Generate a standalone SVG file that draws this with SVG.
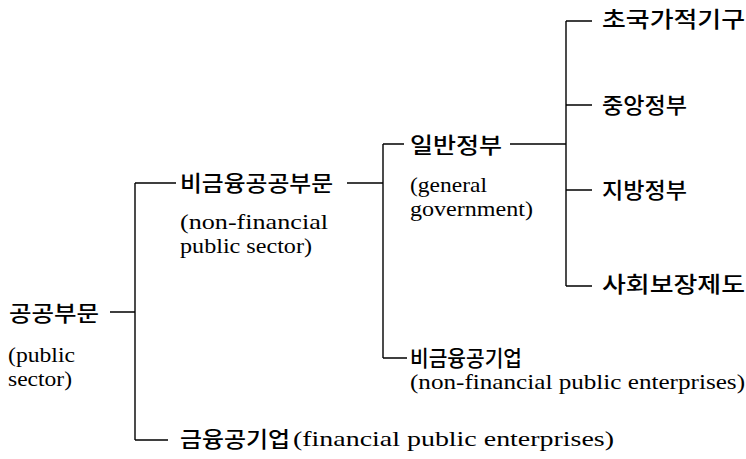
<svg xmlns="http://www.w3.org/2000/svg" width="746" height="459" viewBox="0 0 746 459">
<style>
.ko{font-family:"Noto Sans CJK KR","Noto Sans",sans-serif;font-size:22px;font-weight:500;fill:#000}
.en{font-family:"Liberation Serif","Times New Roman",serif;font-size:21px;fill:#000}
.c{stroke:#000;stroke-width:1.4;fill:none}
</style>
<rect width="746" height="459" fill="#fff"/>
<g id="connectors" class="c">
<path d="M110,312H135M135,183V440M135,183H176M135,440H168"/>
<path d="M347,183H383M383,144V358M383,144H404M383,358H407"/>
<path d="M510,144H566M566,21V286M566,21H592M566,105H592M566,190H592M566,286H592"/>
</g>
<g id="public-sector">
<text class="ko" x="9" y="321" textLength="90" lengthAdjust="spacingAndGlyphs">공공부문</text>
<text class="en" x="8" y="362" textLength="67" lengthAdjust="spacingAndGlyphs">(public</text>
<text class="en" x="8" y="386" textLength="64" lengthAdjust="spacingAndGlyphs">sector)</text>
</g>
<g id="non-financial-public-sector">
<text class="ko" x="180" y="191" textLength="153" lengthAdjust="spacingAndGlyphs">비금융공공부문</text>
<text class="en" x="180" y="229" textLength="148" lengthAdjust="spacingAndGlyphs">(non-financial</text>
<text class="en" x="180" y="253" textLength="132" lengthAdjust="spacingAndGlyphs">public sector)</text>
</g>
<g id="general-government">
<text class="ko" x="410" y="153" textLength="92" lengthAdjust="spacingAndGlyphs">일반정부</text>
<text class="en" x="410" y="192" textLength="77" lengthAdjust="spacingAndGlyphs">(general</text>
<text class="en" x="410" y="216" textLength="123" lengthAdjust="spacingAndGlyphs">government)</text>
</g>
<g id="non-financial-public-enterprises">
<text class="ko" x="410" y="366" textLength="112" lengthAdjust="spacingAndGlyphs">비금융공기업</text>
<text class="en" x="410" y="389" textLength="335" lengthAdjust="spacingAndGlyphs">(non-financial public enterprises)</text>
</g>
<g id="financial-public-enterprises">
<text class="ko" x="180" y="447" textLength="110" lengthAdjust="spacingAndGlyphs">금융공기업</text>
<text class="en" x="293" y="446" textLength="321" lengthAdjust="spacingAndGlyphs">(financial public enterprises)</text>
</g>
<g id="supranational">
<text class="ko" x="602" y="27" textLength="143" lengthAdjust="spacingAndGlyphs">초국가적기구</text>
</g>
<g id="central-government">
<text class="ko" x="602" y="113" textLength="85" lengthAdjust="spacingAndGlyphs">중앙정부</text>
</g>
<g id="local-government">
<text class="ko" x="602" y="198" textLength="85" lengthAdjust="spacingAndGlyphs">지방정부</text>
</g>
<g id="social-security">
<text class="ko" x="602" y="292" textLength="143" lengthAdjust="spacingAndGlyphs">사회보장제도</text>
</g>
</svg>
